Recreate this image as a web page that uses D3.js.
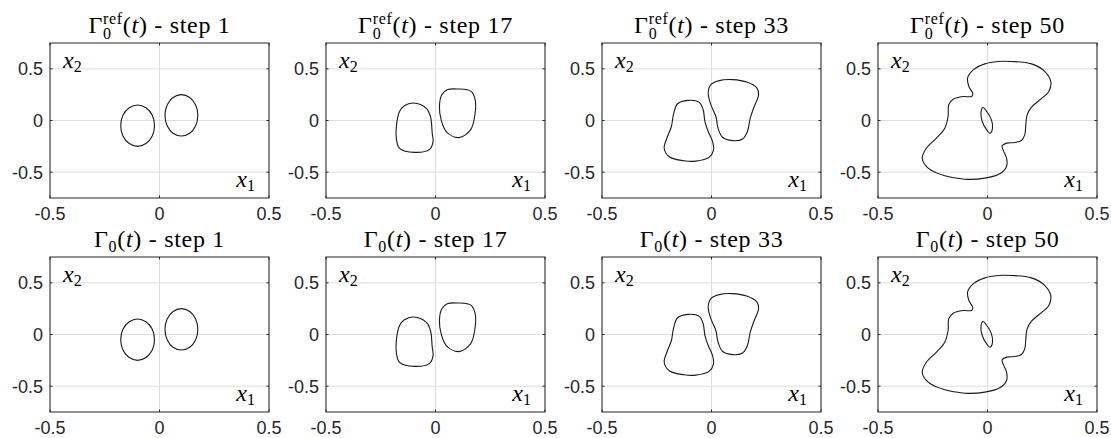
<!DOCTYPE html>
<html>
<head>
<meta charset="utf-8">
<script src="https://cdn.jsdelivr.net/npm/d3@7.9.0/dist/d3.min.js"></script>
<style>
  html, body { margin: 0; padding: 0; background: #fff; }
  svg { display: block; }
</style>
</head>
<body>
<svg id="chart" width="1111" height="438"></svg>
<script>
const steps = [1, 17, 33, 50];
const rowKinds = ['ref', 'plain'];
const xTicks = [-0.5, 0, 0.5];
const yTicks = [-0.5, 0, 0.5];
const xTickLabels = ['-0.5', '0', '0.5'];
const yTickLabels = ['-0.5', '0', '0.5'];

// contours, [x1, x2]
const step1Left = [
  [-0.100, 0.150], [-0.062, 0.123], [-0.033, 0.050], [-0.023, -0.050],
  [-0.033, -0.150], [-0.062, -0.223], [-0.100, -0.250], [-0.138, -0.223],
  [-0.167, -0.150], [-0.177, -0.050], [-0.167, 0.050], [-0.138, 0.123],
];
const step1Right = [
  [0.100, 0.250], [0.138, 0.223], [0.165, 0.150], [0.175, 0.050],
  [0.165, -0.050], [0.138, -0.123], [0.100, -0.150], [0.062, -0.123],
  [0.035, -0.050], [0.025, 0.050], [0.035, 0.150], [0.062, 0.223],
];
const step17Left = [
  [-0.100, 0.169], [-0.043, 0.120], [-0.023, 0.039], [-0.015, -0.123],
  [-0.011, -0.205], [-0.027, -0.279], [-0.096, -0.308], [-0.164, -0.269],
  [-0.178, -0.188], [-0.177, -0.026], [-0.164, 0.088], [-0.142, 0.143],
];
const step17Right = [
  [0.102, 0.305], [0.163, 0.282], [0.181, 0.201], [0.181, 0.071],
  [0.160, -0.091], [0.105, -0.166], [0.049, -0.107], [0.026, 0.006],
  [0.018, 0.136], [0.029, 0.250], [0.056, 0.299],
];
const step33Left = [
  [-0.107, 0.195], [-0.056, 0.175], [-0.038, 0.104], [-0.030, -0.010],
  [-0.015, -0.107], [0.005, -0.205], [0.009, -0.286], [-0.011, -0.357],
  [-0.072, -0.393], [-0.125, -0.390], [-0.193, -0.351], [-0.216, -0.269],
  [-0.204, -0.172], [-0.183, -0.058], [-0.174, 0.055], [-0.155, 0.162],
];
const step33Right = [
  [0.096, 0.396], [0.164, 0.370], [0.207, 0.315], [0.215, 0.250],
  [0.195, 0.136], [0.177, 0.023], [0.164, -0.107], [0.142, -0.179],
  [0.096, -0.195], [0.050, -0.162], [0.030, -0.075], [0.020, 0.039],
  [-0.003, 0.153], [-0.015, 0.266], [-0.003, 0.347], [0.035, 0.386],
];
const step50Outer = [
  [0.110, 0.571], [0.201, 0.548], [0.262, 0.474], [0.289, 0.377],
  [0.280, 0.281], [0.239, 0.200], [0.201, 0.129], [0.181, 0.055],
  [0.175, -0.042], [0.170, -0.139], [0.155, -0.194], [0.125, -0.213],
  [0.087, -0.219], [0.067, -0.245], [0.073, -0.294], [0.087, -0.365],
  [0.087, -0.445], [0.056, -0.516], [-0.012, -0.558], [-0.104, -0.568],
  [-0.195, -0.535], [-0.271, -0.461], [-0.298, -0.365], [-0.279, -0.268],
  [-0.233, -0.171], [-0.195, -0.074], [-0.180, 0.039], [-0.177, 0.152],
  [-0.157, 0.206], [-0.111, 0.232], [-0.073, 0.232], [-0.067, 0.258],
  [-0.085, 0.329], [-0.091, 0.410], [-0.065, 0.490], [-0.012, 0.548],
  [0.049, 0.571],
];
const step50Inner = [
  [-0.021, 0.126], [0.000, 0.077], [0.018, 0.006], [0.023, -0.074],
  [0.012, -0.123], [-0.006, -0.084], [-0.024, -0.010], [-0.030, 0.071],
];

const contoursByStep = [
  [step1Left, step1Right],
  [step17Left, step17Right],
  [step33Left, step33Right],
  [step50Outer, step50Inner],
];

const SERIF = '"Liberation Serif", "DejaVu Serif", serif';
const SANS = '"Liberation Sans", Arial, sans-serif';
const panelLeft0 = 50;
const panelGap = 276;
const panelW = 219;
const panelH = 155;
const rowTops = [43, 257];

const svg = d3.select('#chart');
const line = d3.line().curve(d3.curveCatmullRomClosed.alpha(0.5));

function drawTitle(g, cx, baseline, kind, step) {
  const t = g.append('text')
    .attr('x', 0)
    .attr('y', baseline)
    .attr('font-family', SERIF)
    .attr('font-size', 24)
    .attr('letter-spacing', 0.7)
    .attr('fill', '#000');

  t.append('tspan').text('Γ');
  if (kind === 'ref') {
    const sup = t.append('tspan').attr('font-size', 16).attr('dy', -9).text('ref');
    const wRef = sup.node().getComputedTextLength();
    const sub = t.append('tspan').attr('font-size', 16).attr('dx', -wRef).attr('dy', 15).text('0');
    const w0 = sub.node().getComputedTextLength();
    t.append('tspan').attr('dx', wRef - w0).attr('dy', -6).text('(');
  } else {
    t.append('tspan').attr('font-size', 16).attr('dy', 5).text('0');
    t.append('tspan').attr('dy', -5).text('(');
  }
  t.append('tspan').attr('font-style', 'italic').text('t');
  t.append('tspan').text(`) - step ${step}`);

  const box = t.node().getBBox();
  t.attr('x', cx - box.width / 2);
}

function drawVarLabel(g, x, y, index, anchor) {
  const t = g.append('text')
    .attr('x', x)
    .attr('y', y)
    .attr('font-family', SERIF)
    .attr('font-size', 24)
    .attr('text-anchor', anchor)
    .attr('fill', '#000');
  t.append('tspan').attr('font-style', 'italic').text('x');
  t.append('tspan').attr('font-size', 16).attr('dy', 4).text(index);
}

rowKinds.forEach((kind, row) => {
  const top = rowTops[row];

  steps.forEach((step, col) => {
    const left = panelLeft0 + col * panelGap;
    const x = d3.scaleLinear().domain([-0.5, 0.5]).range([left, left + panelW]);
    const y = d3.scaleLinear().domain([-0.75, 0.75]).range([top + panelH, top]);
    const g = svg.append('g');

    // grid
    g.selectAll('.gx')
      .data(xTicks)
      .join('line')
      .attr('x1', (d) => x(d)).attr('x2', (d) => x(d))
      .attr('y1', top).attr('y2', top + panelH)
      .attr('stroke', '#dedede')
      .attr('stroke-width', 1);
    g.selectAll('.gy')
      .data(yTicks)
      .join('line')
      .attr('x1', left).attr('x2', left + panelW)
      .attr('y1', (d) => y(d)).attr('y2', (d) => y(d))
      .attr('stroke', '#dedede')
      .attr('stroke-width', 1);

    // contours
    g.selectAll('path.contour')
      .data(contoursByStep[col])
      .join('path')
      .attr('class', 'contour')
      .attr('d', (pts) => line(pts.map(([a, b]) => [x(a), y(b)])))
      .attr('fill', 'none')
      .attr('stroke', '#1a1a1a')
      .attr('stroke-width', 1.1);

    // box
    g.append('rect')
      .attr('x', left).attr('y', top)
      .attr('width', panelW).attr('height', panelH)
      .attr('fill', 'none')
      .attr('stroke', '#262626')
      .attr('stroke-width', 1);

    // inward ticks
    xTicks.forEach((d) => {
      g.append('line').attr('x1', x(d)).attr('x2', x(d))
        .attr('y1', top + panelH).attr('y2', top + panelH - 2.5).attr('stroke', '#262626');
      g.append('line').attr('x1', x(d)).attr('x2', x(d))
        .attr('y1', top).attr('y2', top + 2.5).attr('stroke', '#262626');
    });
    yTicks.forEach((d) => {
      g.append('line').attr('x1', left).attr('x2', left + 2.5)
        .attr('y1', y(d)).attr('y2', y(d)).attr('stroke', '#262626');
      g.append('line').attr('x1', left + panelW).attr('x2', left + panelW - 2.5)
        .attr('y1', y(d)).attr('y2', y(d)).attr('stroke', '#262626');
    });

    // tick labels
    g.selectAll('.xl')
      .data(xTicks)
      .join('text')
      .attr('x', (d) => x(d))
      .attr('y', top + panelH + 22)
      .attr('text-anchor', 'middle')
      .attr('font-family', SANS)
      .attr('font-size', 18)
      .attr('fill', '#262626')
      .text((d, i) => xTickLabels[i]);
    g.selectAll('.yl')
      .data(yTicks)
      .join('text')
      .attr('x', left - 7)
      .attr('y', (d) => y(d) + 6.5)
      .attr('text-anchor', 'end')
      .attr('font-family', SANS)
      .attr('font-size', 18)
      .attr('fill', '#262626')
      .text((d, i) => yTickLabels[i]);

    drawVarLabel(g, left + 13, top + 25, '2', 'start');
    drawVarLabel(g, left + panelW - 14, top + panelH - 11, '1', 'end');
    drawTitle(g, left + panelW / 2, top - 10, kind, step);
  });
});
</script>
</body>
</html>
